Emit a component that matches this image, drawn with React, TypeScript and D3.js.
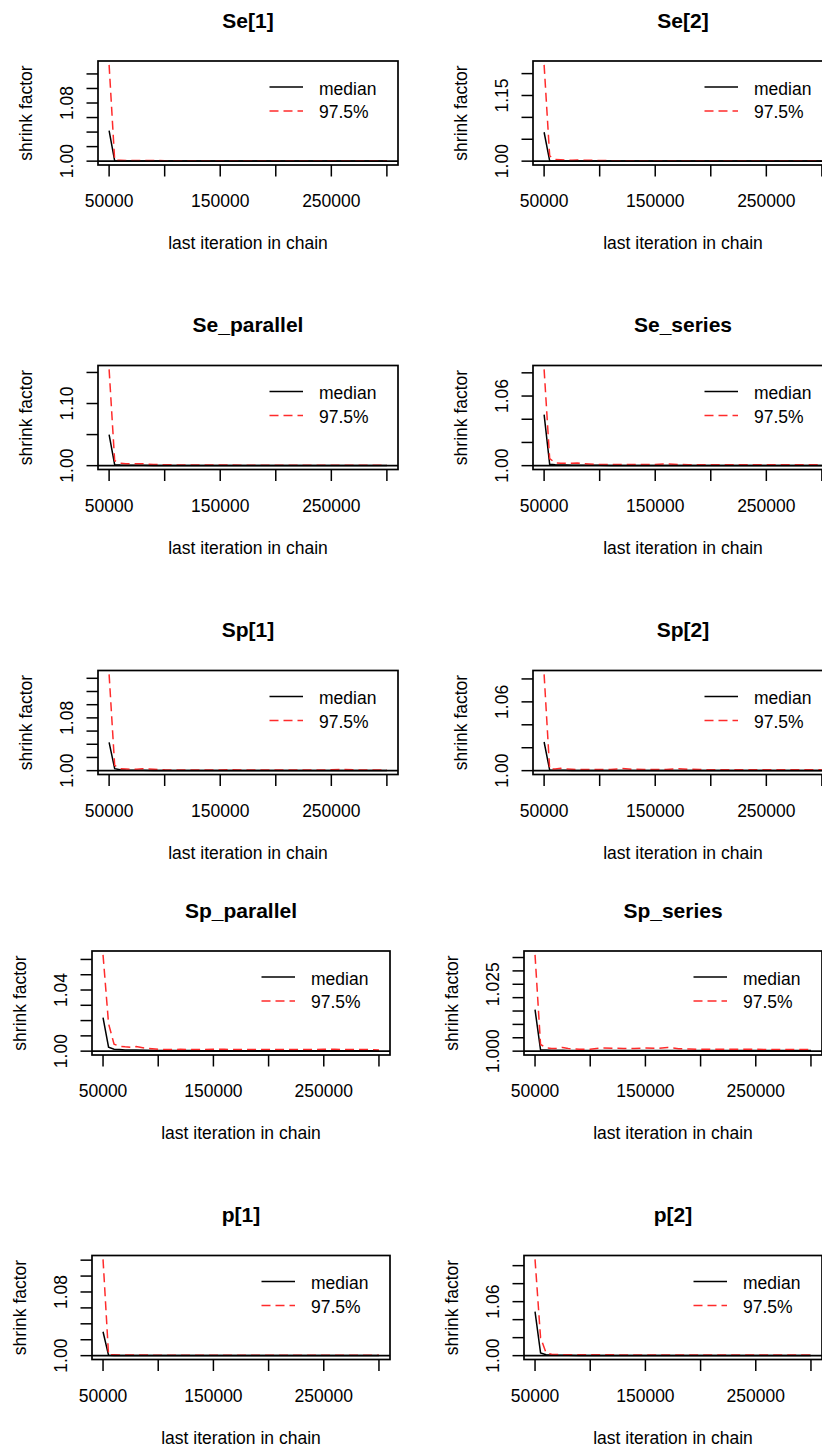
import React from 'react';
import * as d3 from 'd3';

// ---------- DATA ----------
const iterations = [50000, 55000, 60000, 65000, 70000, 75000, 80000, 90000, 100000, 110000, 120000, 130000, 140000, 150000, 160000, 170000, 180000, 190000, 200000, 210000, 220000, 230000, 240000, 250000, 260000, 270000, 280000, 290000, 300000];

const panelTitles = ['Se[1]', 'Se[2]', 'Se_parallel', 'Se_series', 'Sp[1]', 'Sp[2]', 'Sp_parallel', 'Sp_series', 'p[1]', 'p[2]'];
const legendLabels = ['median', '97.5%'];
const xAxisTitle = 'last iteration in chain';
const yAxisTitle = 'shrink factor';

const xTicks = [50000, 100000, 150000, 200000, 250000, 300000];
const xTickLabels = ['50000', '', '150000', '', '250000', ''];

const se1Median = [1.042, 1.0004, 1.0003, 1.0003, 1.0002, 1.0002, 1.0002, 1.0002, 1.0001, 1.0001, 1.0001, 1.0001, 1.0001, 1.0001, 1.0001, 1.0001, 1.0001, 1.0001, 1.0001, 1.0001, 1.0001, 1.0001, 1.0001, 1.0001, 1.0001, 1.0001, 1.0001, 1.0001, 1.0001];
const se1Upper = [1.1325, 1.0015, 1.0012, 1.001, 1.0009, 1.0009, 1.0008, 1.0008, 1.0007, 1.0007, 1.0007, 1.0006, 1.0006, 1.0006, 1.0006, 1.0006, 1.0006, 1.0005, 1.0005, 1.0005, 1.0005, 1.0005, 1.0005, 1.0005, 1.0005, 1.0005, 1.0005, 1.0005, 1.0005];

const se2Median = [1.066, 1.0008, 1.0005, 1.0004, 1.0003, 1.0003, 1.0003, 1.0002, 1.0002, 1.0002, 1.0002, 1.0002, 1.0002, 1.0002, 1.0002, 1.0002, 1.0002, 1.0002, 1.0002, 1.0002, 1.0002, 1.0002, 1.0002, 1.0002, 1.0002, 1.0002, 1.0002, 1.0002, 1.0002];
const se2Upper = [1.22, 1.012, 1.004, 1.003, 1.002, 1.002, 1.0025, 1.002, 1.0015, 1.0012, 1.001, 1.001, 1.001, 1.001, 1.001, 1.001, 1.001, 1.0008, 1.0008, 1.0008, 1.0008, 1.0008, 1.0008, 1.0008, 1.0008, 1.0008, 1.0008, 1.0008, 1.0008];

const seParMedian = [1.05, 1.0015, 1.001, 1.0008, 1.0006, 1.0005, 1.0005, 1.0004, 1.0003, 1.0003, 1.0002, 1.0002, 1.0002, 1.0002, 1.0002, 1.0002, 1.0002, 1.0002, 1.0002, 1.0002, 1.0002, 1.0002, 1.0002, 1.0002, 1.0002, 1.0002, 1.0002, 1.0002, 1.0002];
const seParUpper = [1.155, 1.008, 1.004, 1.003, 1.003, 1.003, 1.003, 1.002, 1.0015, 1.0012, 1.001, 1.001, 1.001, 1.001, 1.001, 1.0008, 1.0008, 1.0008, 1.0008, 1.0008, 1.0008, 1.0008, 1.0008, 1.0008, 1.0008, 1.0008, 1.0008, 1.0008, 1.0008];

const seSerMedian = [1.044, 1.0012, 1.0008, 1.0006, 1.0005, 1.0004, 1.0004, 1.0003, 1.0003, 1.0002, 1.0002, 1.0002, 1.0002, 1.0002, 1.0002, 1.0002, 1.0002, 1.0002, 1.0002, 1.0002, 1.0002, 1.0002, 1.0002, 1.0002, 1.0002, 1.0002, 1.0002, 1.0002, 1.0002];
const seSerUpper = [1.083, 1.006, 1.0025, 1.002, 1.002, 1.002, 1.0022, 1.0015, 1.001, 1.001, 1.001, 1.0009, 1.0009, 1.001, 1.0016, 1.001, 1.0008, 1.0008, 1.0007, 1.0007, 1.0007, 1.0007, 1.0007, 1.0007, 1.0007, 1.0007, 1.0007, 1.0007, 1.0007];

const sp1Median = [1.043, 1.003, 1.0012, 1.0008, 1.0006, 1.0005, 1.0005, 1.0004, 1.0003, 1.0002, 1.0002, 1.0002, 1.0002, 1.0002, 1.0002, 1.0002, 1.0002, 1.0002, 1.0002, 1.0002, 1.0002, 1.0002, 1.0002, 1.0002, 1.0002, 1.0002, 1.0002, 1.0002, 1.0002];
const sp1Upper = [1.146, 1.008, 1.003, 1.0025, 1.002, 1.002, 1.003, 1.002, 1.0012, 1.001, 1.001, 1.001, 1.001, 1.001, 1.0015, 1.001, 1.001, 1.001, 1.001, 1.001, 1.001, 1.001, 1.001, 1.0012, 1.0018, 1.0012, 1.001, 1.001, 1.001];

const sp2Median = [1.025, 1.0005, 1.0004, 1.0003, 1.0003, 1.0002, 1.0002, 1.0002, 1.0002, 1.0002, 1.0002, 1.0002, 1.0002, 1.0002, 1.0002, 1.0002, 1.0002, 1.0002, 1.0002, 1.0002, 1.0002, 1.0002, 1.0002, 1.0002, 1.0002, 1.0002, 1.0002, 1.0002, 1.0002];
const sp2Upper = [1.084, 1.0012, 1.0015, 1.002, 1.0015, 1.0012, 1.001, 1.001, 1.001, 1.001, 1.0018, 1.0012, 1.001, 1.001, 1.001, 1.0018, 1.0012, 1.001, 1.0008, 1.0008, 1.0008, 1.0008, 1.0008, 1.0008, 1.0008, 1.0008, 1.0008, 1.0008, 1.0008];

const spParMedian = [1.022, 1.0026, 1.0012, 1.001, 1.0008, 1.0007, 1.0007, 1.0006, 1.0005, 1.0005, 1.0004, 1.0004, 1.0003, 1.0003, 1.0003, 1.0003, 1.0003, 1.0003, 1.0003, 1.0003, 1.0003, 1.0003, 1.0003, 1.0003, 1.0003, 1.0003, 1.0003, 1.0003, 1.0003];
const spParUpper = [1.063, 1.018, 1.0045, 1.0032, 1.0028, 1.0025, 1.003, 1.0018, 1.0012, 1.001, 1.0012, 1.001, 1.001, 1.0012, 1.0012, 1.001, 1.001, 1.001, 1.001, 1.001, 1.001, 1.001, 1.001, 1.0012, 1.0012, 1.001, 1.001, 1.001, 1.0008];

const spSerMedian = [1.0155, 1.0004, 1.0004, 1.0003, 1.0003, 1.0003, 1.0002, 1.0002, 1.0002, 1.0002, 1.0002, 1.0002, 1.0002, 1.0002, 1.0002, 1.0002, 1.0002, 1.0002, 1.0002, 1.0002, 1.0002, 1.0002, 1.0002, 1.0002, 1.0002, 1.0002, 1.0002, 1.0002, 1.0002];
const spSerUpper = [1.036, 1.0025, 1.0012, 1.001, 1.001, 1.0014, 1.001, 1.0007, 1.0007, 1.0012, 1.0011, 1.001, 1.001, 1.0012, 1.001, 1.0014, 1.0009, 1.0008, 1.0007, 1.0007, 1.0007, 1.0007, 1.0007, 1.0007, 1.0006, 1.0006, 1.0006, 1.0006, 1.0006];

const p1Median = [1.03, 1.0004, 1.0003, 1.0003, 1.0002, 1.0002, 1.0002, 1.0002, 1.0002, 1.0002, 1.0002, 1.0002, 1.0002, 1.0002, 1.0002, 1.0002, 1.0002, 1.0002, 1.0002, 1.0002, 1.0002, 1.0002, 1.0002, 1.0002, 1.0002, 1.0002, 1.0002, 1.0002, 1.0002];
const p1Upper = [1.121, 1.0012, 1.001, 1.0008, 1.0008, 1.0007, 1.0007, 1.0007, 1.0006, 1.0006, 1.0006, 1.0006, 1.0006, 1.0006, 1.0006, 1.0006, 1.0006, 1.0006, 1.0006, 1.0006, 1.0006, 1.0006, 1.0006, 1.0006, 1.0006, 1.0006, 1.0006, 1.0006, 1.0006];

const p2Median = [1.049, 1.003, 1.001, 1.0007, 1.0005, 1.0004, 1.0004, 1.0003, 1.0003, 1.0003, 1.0003, 1.0003, 1.0003, 1.0003, 1.0003, 1.0003, 1.0003, 1.0003, 1.0003, 1.0003, 1.0003, 1.0003, 1.0003, 1.0003, 1.0003, 1.0003, 1.0003, 1.0003, 1.0003];
const p2Upper = [1.107, 1.02, 1.003, 1.0015, 1.0012, 1.001, 1.001, 1.001, 1.0009, 1.0009, 1.0009, 1.0008, 1.0008, 1.0008, 1.0008, 1.0008, 1.0008, 1.0008, 1.0008, 1.0008, 1.0008, 1.0008, 1.0008, 1.0008, 1.0008, 1.0008, 1.0008, 1.0008, 1.0008];

const se1YTicks = [1.0, 1.02, 1.04, 1.06, 1.08, 1.1, 1.12];
const se1YLabels = [1.0, 1.08];
const se2YTicks = [1.0, 1.05, 1.1, 1.15, 1.2];
const se2YLabels = [1.0, 1.15];
const seParYTicks = [1.0, 1.05, 1.1, 1.15];
const seParYLabels = [1.0, 1.1];
const seSerYTicks = [1.0, 1.02, 1.04, 1.06, 1.08];
const seSerYLabels = [1.0, 1.06];
const sp1YTicks = [1.0, 1.02, 1.04, 1.06, 1.08, 1.1, 1.12, 1.14];
const sp1YLabels = [1.0, 1.08];
const sp2YTicks = [1.0, 1.02, 1.04, 1.06, 1.08];
const sp2YLabels = [1.0, 1.06];
const spParYTicks = [1.0, 1.01, 1.02, 1.03, 1.04, 1.05, 1.06];
const spParYLabels = [1.0, 1.04];
const spSerYTicks = [1.0, 1.005, 1.01, 1.015, 1.02, 1.025, 1.03, 1.035];
const spSerYLabels = [1.0, 1.025];
const p1YTicks = [1.0, 1.02, 1.04, 1.06, 1.08, 1.1, 1.12];
const p1YLabels = [1.0, 1.08];
const p2YTicks = [1.0, 1.02, 1.04, 1.06, 1.08, 1.1];
const p2YLabels = [1.0, 1.06];

const medians = [se1Median, se2Median, seParMedian, seSerMedian, sp1Median, sp2Median, spParMedian, spSerMedian, p1Median, p2Median];
const uppers = [se1Upper, se2Upper, seParUpper, seSerUpper, sp1Upper, sp2Upper, spParUpper, spSerUpper, p1Upper, p2Upper];
const yTicksAll = [se1YTicks, se2YTicks, seParYTicks, seSerYTicks, sp1YTicks, sp2YTicks, spParYTicks, spSerYTicks, p1YTicks, p2YTicks];
const yLabelsAll = [se1YLabels, se2YLabels, seParYLabels, seSerYLabels, sp1YLabels, sp2YLabels, spParYLabels, spSerYLabels, p1YLabels, p2YLabels];
const yDecimals = [2, 2, 2, 2, 2, 2, 2, 3, 2, 2];

// ---------- LAYOUT ----------
const W = 822;
const H = 1447;
const FONT = "'Liberation Sans', Arial, Helvetica, sans-serif";
const BASE_FS = 17.5;
const TITLE_FS = 21;
const RED = '#ff2b2b';
const LINE_W = 1.5;
const DASH = '9,5';

const boxLefts = [98, 533, 98, 533, 98, 533, 92, 524, 92, 524];
const boxWidths = [300, 300, 300, 300, 300, 300, 298, 298, 298, 298];
const boxTops = [61, 61, 365.5, 365.5, 670.5, 670.5, 951, 951, 1255.5, 1255.5];
const boxHeight = 104;

function Panel({ i }: { i: number }) {
  const left = boxLefts[i];
  const width = boxWidths[i];
  const top = boxTops[i];
  const bottom = top + boxHeight;
  const right = left + width;

  const xMin = d3.min(iterations) as number;
  const xMax = d3.max(iterations) as number;
  const xPad = (xMax - xMin) * 0.04;
  const x = d3.scaleLinear().domain([xMin - xPad, xMax + xPad]).range([left, right]);

  const allY = [1, ...medians[i], ...uppers[i]];
  const yMin = d3.min(allY) as number;
  const yMax = d3.max(allY) as number;
  const yPad = (yMax - yMin) * 0.04;
  const y = d3.scaleLinear().domain([yMin - yPad, yMax + yPad]).range([bottom, top]);

  const line = d3
    .line<number>()
    .x((_, k) => x(iterations[k]))
    .y((d) => y(d));

  const clipId = `clip-${i}`;
  const cx = (left + right) / 2;
  const cy = (top + bottom) / 2;
  const fmt = d3.format(`.${yDecimals[i]}f`);
  const tickLen = 11.5;

  return (
    <g>
      <defs>
        <clipPath id={clipId}>
          <rect x={left} y={top} width={width} height={boxHeight} />
        </clipPath>
      </defs>
      <text x={cx} y={top - 33.5} textAnchor="middle" fontSize={TITLE_FS} fontWeight="bold" fontFamily={FONT} fill="#000">
        {panelTitles[i]}
      </text>
      <g clipPath={`url(#${clipId})`}>
        <path d={line(medians[i]) || ''} fill="none" stroke="#000" strokeWidth={LINE_W} />
        <path d={line(uppers[i]) || ''} fill="none" stroke={RED} strokeWidth={LINE_W} strokeDasharray={DASH} />
        <line x1={left} x2={right} y1={y(1)} y2={y(1)} stroke="#000" strokeWidth={1.7} />
      </g>
      <rect x={left} y={top} width={width} height={boxHeight} fill="none" stroke="#000" strokeWidth={1.7} />
      {xTicks.map((t, k) => (
        <g key={`xt${k}`}>
          <line x1={x(t)} x2={x(t)} y1={bottom} y2={bottom + tickLen} stroke="#000" strokeWidth={1.5} />
          {xTickLabels[k] && (
            <text x={x(t)} y={bottom + 42} textAnchor="middle" fontSize={BASE_FS} fontFamily={FONT} fill="#000">
              {xTickLabels[k]}
            </text>
          )}
        </g>
      ))}
      <text x={cx} y={bottom + 84} textAnchor="middle" fontSize={BASE_FS} fontFamily={FONT} fill="#000">
        {xAxisTitle}
      </text>
      {yTicksAll[i].map((t, k) => (
        <line key={`yt${k}`} x1={left - tickLen} x2={left} y1={y(t)} y2={y(t)} stroke="#000" strokeWidth={1.5} />
      ))}
      {yLabelsAll[i].map((t, k) => (
        <text
          key={`yl${k}`}
          transform={`translate(${left - 25.5},${y(t)}) rotate(-90)`}
          textAnchor="middle"
          fontSize={BASE_FS}
          fontFamily={FONT}
          fill="#000"
        >
          {fmt(t)}
        </text>
      ))}
      <text transform={`translate(${left - 66},${cy}) rotate(-90)`} textAnchor="middle" fontSize={BASE_FS} fontFamily={FONT} fill="#000">
        {yAxisTitle}
      </text>
      <line x1={right - 128.5} x2={right - 95} y1={top + 26} y2={top + 26} stroke="#000" strokeWidth={LINE_W} />
      <line x1={right - 128.5} x2={right - 95} y1={top + 50} y2={top + 50} stroke={RED} strokeWidth={LINE_W} strokeDasharray={DASH} />
      <text x={right - 79} y={top + 33.5} fontSize={BASE_FS} fontFamily={FONT} fill="#000">
        {legendLabels[0]}
      </text>
      <text x={right - 79} y={top + 57} fontSize={BASE_FS} fontFamily={FONT} fill="#000">
        {legendLabels[1]}
      </text>
    </g>
  );
}

export default function App() {
  return (
    <svg
      width={W}
      height={H}
      viewBox={`0 0 ${W} ${H}`}
      style={{ position: 'absolute', left: 0, top: 0, background: '#fff', display: 'block' }}
    >
      <rect x={0} y={0} width={W} height={H} fill="#fff" />
      {panelTitles.map((_, i) => (
        <Panel key={i} i={i} />
      ))}
    </svg>
  );
}
